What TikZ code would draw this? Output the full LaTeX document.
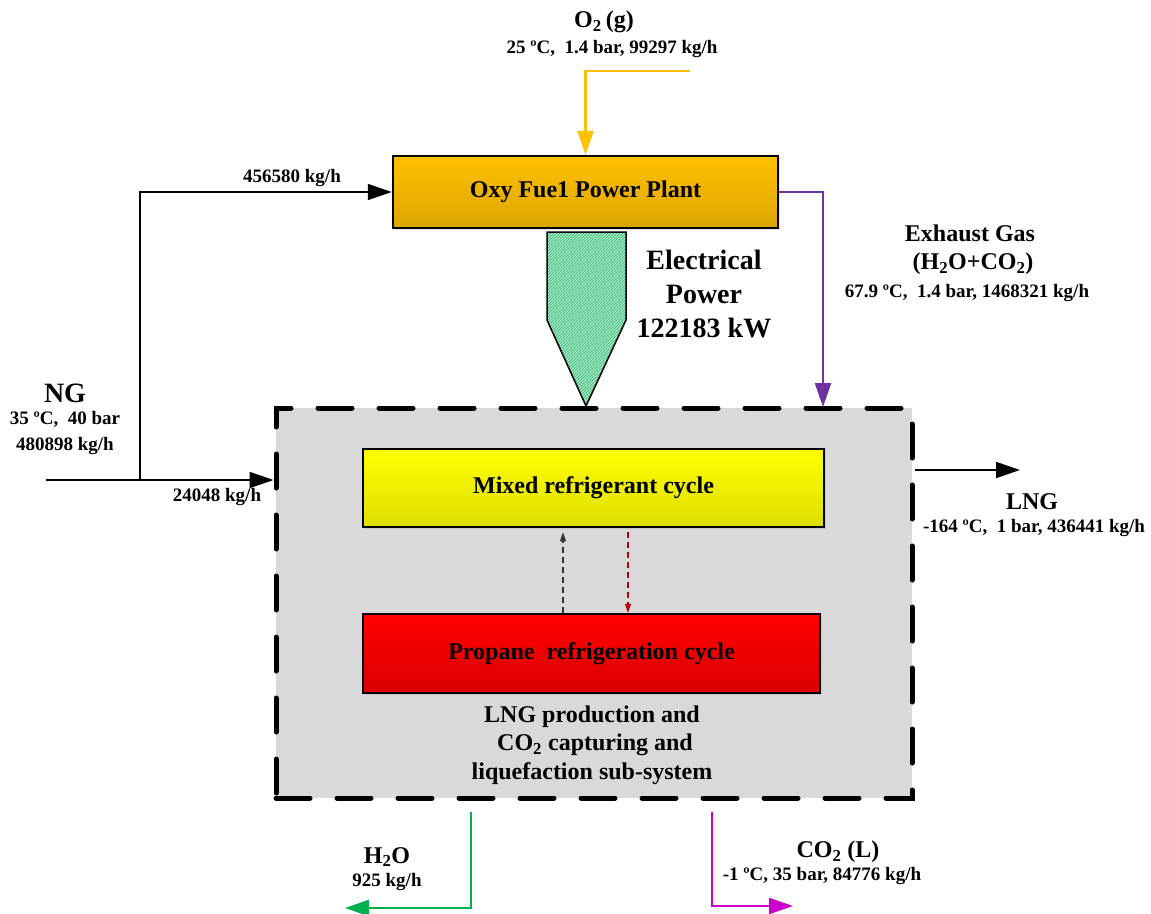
\documentclass[tikz,border=0pt]{standalone}
\usepackage{fontspec}
\setmainfont{Liberation Serif}
\usetikzlibrary{arrows.meta,patterns,shadows}
\definecolor{oxytop}{HTML}{FFC000}
\definecolor{oxybot}{HTML}{DCA600}
\definecolor{mixtop}{HTML}{FFFF00}
\definecolor{mixbot}{HTML}{DEDE00}
\definecolor{protop}{HTML}{FF0000}
\definecolor{probot}{HTML}{DC0000}
\definecolor{subfill}{HTML}{D9D9D9}
\definecolor{o2col}{HTML}{FFC000}
\definecolor{exhcol}{HTML}{7030A0}
\definecolor{h2ocol}{HTML}{00B050}
\definecolor{co2col}{HTML}{CC00CC}
\definecolor{redarr}{HTML}{C00000}
\definecolor{elfill}{HTML}{A6E8C4}
\definecolor{elhatch}{HTML}{2DB36E}
\begin{document}
\begin{tikzpicture}[x=1pt,y=-1pt,
  unitbox/.style={draw=black, line width=2.5pt, inner sep=0pt,
    font=\fontsize{24}{28}\selectfont\bfseries,
    drop shadow={opacity=0.2, shadow xshift=2pt, shadow yshift=-2pt}},
  flow/.style={line width=1.8pt, -{Triangle[length=24pt,width=16pt]}},
  cflow/.style={line width=2.4pt, -{Triangle[length=24pt,width=16pt]}},
  smallflow/.style={line width=1.2pt, dash pattern=on 6pt off 4pt, -{Triangle[length=9pt,width=6pt]}},
  lblsmall/.style={font=\fontsize{19}{22}\selectfont\bfseries, align=center, inner sep=0pt},
  lblmid/.style={font=\fontsize{24}{28}\selectfont\bfseries, align=center, inner sep=0pt},
  lblbig/.style={font=\fontsize{28}{34}\selectfont\bfseries, align=center, inner sep=0pt}]
\useasboundingbox (0,0) rectangle (1151,913);
\fill[white] (0,0) rectangle (1151,913);

% sub-system box
\node[draw=black, fill=subfill, line width=5pt, line cap=round,
  dash pattern=on 34pt off 27pt, minimum width=636pt, minimum height=390pt]
  (sub) at (594,603) {};

% units
\node[unitbox, top color=oxytop, bottom color=oxybot, minimum width=385pt, minimum height=72pt]
  (oxy) at (585.5,192) {Oxy Fue1 Power Plant};
\node[unitbox, top color=mixtop, bottom color=mixbot, minimum width=461pt, minimum height=78pt]
  (mix) at (593.5,488) {Mixed refrigerant cycle};
\node[unitbox, top color=protop, bottom color=probot, minimum width=457pt, minimum height=79pt]
  (pro) at (591.5,653.5) {Propane\ \ refrigeration cycle};

% electrical power arrow
\fill[elfill]
  (547,232) -- (626,232) -- (626,320) -- (586,406) -- (547,320) -- cycle;
\fill[pattern=north east lines, pattern color=elhatch]
  (547,232) -- (626,232) -- (626,320) -- (586,406) -- (547,320) -- cycle;
\draw[black, line width=1.5pt, line join=miter]
  (547,232) -- (626,232) -- (626,320) -- (586,406) -- (547,320) -- cycle;

% coordinates
\coordinate (ngstart) at (46,480);
\coordinate (split) at (140,480);
\coordinate (o2start) at (690,71);
\coordinate (exhend) at (823,407);
\coordinate (lngend) at (1020,470);
\coordinate (h2ostart) at (471,812);
\coordinate (h2oend) at (345,908);
\coordinate (co2start) at (712,812);
\coordinate (co2end) at (793,906);

% streams
\draw[flow] (ngstart) -- (ngstart -| sub.west);
\draw[flow] (split) |- (oxy.west);
\draw[cflow, draw=o2col] (o2start) -| (oxy.north);
\draw[cflow, draw=exhcol] (oxy.east) -| (exhend);
\draw[flow] (lngend -| sub.east) -- (lngend);
\draw[cflow, draw=h2ocol] (h2ostart) |- (h2oend);
\draw[cflow, draw=co2col] (co2start) |- (co2end);

% internal dashed arrows
\draw[smallflow, draw=black!80] (pro.north -| 563,0) -- ([yshift=-4pt]mix.south -| 563,0);
\draw[smallflow, draw=redarr] ([yshift=-4pt]mix.south -| 628,0) -- (pro.north -| 628,0);

% labels
\node[lblmid] (o2lbl) at (604,22) {O\textsubscript{2}\,(g)};
\node[lblsmall] (o2cond) at (612,49) {25 ºC,~ 1.4 bar, 99297 kg/h};
\node[lblsmall] (oxyfeed) at (292,178) {456580 kg/h};
\node[lblbig] (ellbl) at (704,294) {Electrical\\Power\\122183 kW};
\node[lblmid] (exhlbl) at (970,250) {Exhaust Gas\\\ (H\textsubscript{2}O+CO\textsubscript{2})};
\node[lblsmall] (exhcond) at (967,293) {67.9 ºC,~ 1.4 bar, 1468321 kg/h};
\node[lblbig] (nglbl) at (65,393) {NG};
\node[lblsmall, font=\fontsize{19}{26}\selectfont\bfseries] (ngcond) at (65,433) {35 ºC,~ 40 bar\\480898 kg/h};
\node[lblsmall] (subfeed) at (217,497) {24048 kg/h};
\node[lblmid] (lnglbl) at (1032,502) {LNG};
\node[lblsmall] (lngcond) at (1034,528) {-164 ºC,~ 1 bar, 436441 kg/h};
\node[lblmid, font=\fontsize{24}{28.5}\selectfont\bfseries] (sublbl) at (592,745)
  {LNG production and\\\ CO\textsubscript{2} capturing and\\liquefaction sub-system};
\node[lblmid] (h2olbl) at (387,857) {H\textsubscript{2}O};
\node[lblsmall] (h2ocond) at (387,882) {925 kg/h};
\node[lblmid] (co2lbl) at (838,852) {CO\textsubscript{2} (L)};
\node[lblsmall] (co2cond) at (822,876) {-1 ºC, 35 bar, 84776 kg/h};
\end{tikzpicture}
\end{document}
